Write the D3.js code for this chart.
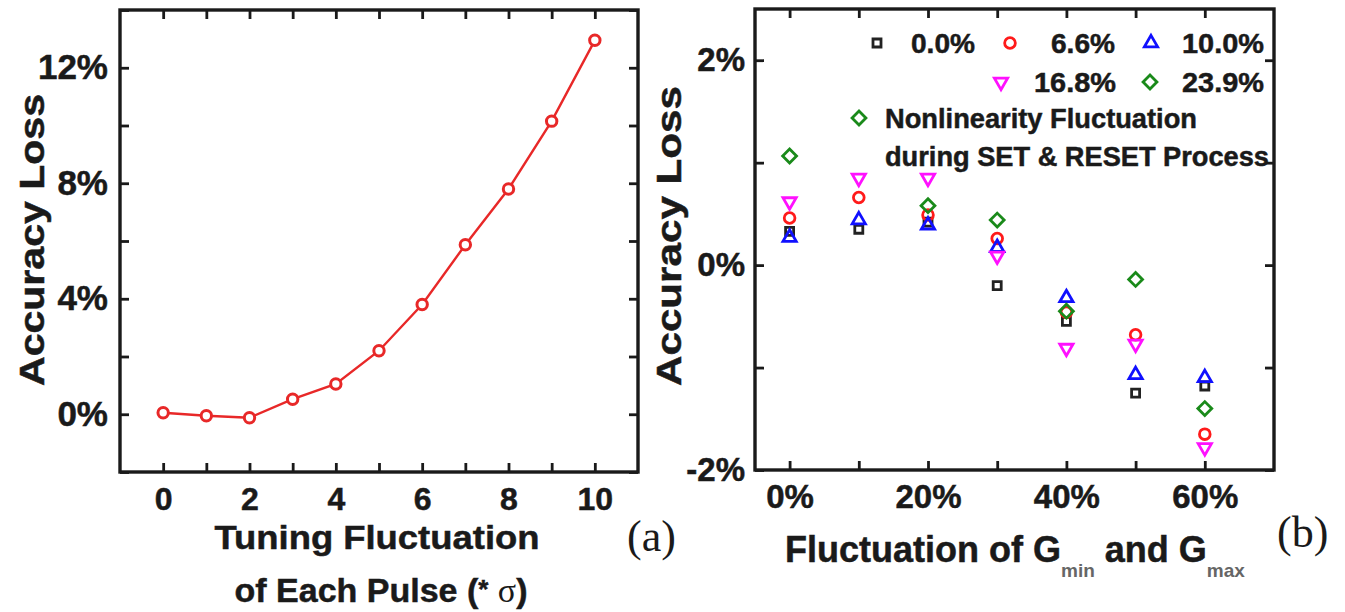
<!DOCTYPE html>
<html lang="en">
<head>
<meta charset="UTF-8">
<title>Accuracy Loss vs Fluctuation</title>
<script src="https://cdnjs.cloudflare.com/ajax/libs/d3/7.8.5/d3.min.js"></script>
<style>
  body { margin: 0; background: #fff; }
  svg { display: block; }
  text { font-family: Arial, "Liberation Sans", sans-serif; font-weight: bold; fill: #1a1a1a; stroke: #1a1a1a; stroke-width: 0.5px; }
  text.serif { font-family: "Liberation Serif", "Times New Roman", serif; font-weight: normal; stroke: none; }
</style>
</head>
<body>
<svg id="chart" width="1345" height="612"></svg>
<script>
// panel (a): tuning fluctuation of each pulse
const pulseSigma = [0, 1, 2, 3, 4, 5, 6, 7, 8, 9, 10];
const lossA = [0.05, -0.05, -0.12, 0.52, 1.05, 2.2, 3.8, 5.87, 7.8, 10.15, 12.95];
const ticksAX = [0, 2, 4, 6, 8, 10];
const ticksAY = [0, 4, 8, 12];

// panel (b): fluctuation of Gmin and Gmax, one series per nonlinearity fluctuation
const gFluct = [0, 10, 20, 30, 40, 50, 60];
const nlLabels = ["0.0%", "6.6%", "10.0%", "16.8%", "23.9%"];
const loss00 = [0.33, 0.35, 0.42, -0.2, -0.55, -1.25, -1.18];
const loss66 = [0.46, 0.66, 0.49, 0.26, -0.46, -0.68, -1.65];
const loss100 = [0.27, 0.44, 0.39, 0.17, -0.32, -1.07, -1.1];
const loss168 = [0.62, 0.85, 0.85, 0.09, -0.81, -0.77, -1.78];
const loss239 = [1.065, null, 0.58, 0.44, -0.45, -0.14, -1.4];
const ticksBX = [0, 20, 40, 60];
const ticksBY = [-2, 0, 2];

const svg = d3.select("#chart");

// ---------- helpers ----------
function frameAxes(g, x, y, xAll, yAll, xLab, yLab, xFmt, yFmt, xPad, yPad) {
    const [x0, x1] = x.range();
    const [y0, y1] = y.range();
    const tk = 9;

    g.append("g").attr("class", "xaxis").attr("transform", `translate(0,${y0})`)
        .call(d3.axisBottom(x).tickValues(xAll).tickSize(-tk).tickPadding(xPad)
            .tickFormat(d => xLab.includes(d) ? xFmt(d) : ""));
    g.append("g").attr("transform", `translate(0,${y1})`)
        .call(d3.axisTop(x).tickValues(xAll).tickSize(-tk).tickFormat(""));
    g.append("g").attr("class", "yaxis").attr("transform", `translate(${x0},0)`)
        .call(d3.axisLeft(y).tickValues(yAll).tickSize(-tk).tickPadding(yPad)
            .tickFormat(d => yLab.includes(d) ? yFmt(d) : ""));
    g.append("g").attr("transform", `translate(${x1},0)`)
        .call(d3.axisRight(y).tickValues(yAll).tickSize(-tk).tickFormat(""));

    g.selectAll(".domain").remove();
    g.selectAll(".tick line").attr("stroke", "#1a1a1a").attr("stroke-width", 2.8);
    g.selectAll(".tick text").attr("font-family", null);

    g.append("rect")
        .attr("x", x0).attr("y", y1)
        .attr("width", x1 - x0).attr("height", y0 - y1)
        .attr("fill", "none").attr("stroke", "#1a1a1a").attr("stroke-width", 3.4);
}

function rotLabel(g, cx, cy, txt, len) {
    g.append("text")
        .attr("transform", `translate(${cx},${cy}) rotate(-90)`)
        .attr("text-anchor", "middle")
        .attr("dominant-baseline", "central")
        .attr("font-size", 35)
        .attr("textLength", len)
        .attr("lengthAdjust", "spacingAndGlyphs")
        .text(txt);
}

// ---------- panel (a) ----------
const gA = svg.append("g");
const xA = d3.scaleLinear().domain([-1, 11]).range([120, 638]);
const yA = d3.scaleLinear().domain([-2, 14]).range([472, 10]);

frameAxes(gA, xA, yA, d3.range(0, 11, 1), d3.range(-2, 15, 2), ticksAX, ticksAY,
    d => d, d => d + "%", 15, 12);
gA.selectAll(".yaxis .tick text").attr("font-size", 35);
gA.selectAll(".xaxis .tick text").attr("font-size", 32);

gA.append("path")
    .datum(pulseSigma.map((p, i) => [p, lossA[i]]))
    .attr("fill", "none").attr("stroke", "#e82828").attr("stroke-width", 2.4)
    .attr("d", d3.line().x(d => xA(d[0])).y(d => yA(d[1])));

gA.selectAll("circle.pt")
    .data(pulseSigma.map((p, i) => [p, lossA[i]]))
    .join("circle").attr("class", "pt")
    .attr("cx", d => xA(d[0])).attr("cy", d => yA(d[1]))
    .attr("r", 5.2).attr("fill", "#fff").attr("stroke", "#e82828").attr("stroke-width", 3);

rotLabel(gA, 31, 240, "Accuracy Loss", 292);

gA.append("text").attr("x", 377).attr("y", 549).attr("text-anchor", "middle")
    .attr("font-size", 34).attr("textLength", 325).attr("lengthAdjust", "spacingAndGlyphs")
    .text("Tuning Fluctuation");
const t2 = gA.append("text").attr("x", 381).attr("y", 602).attr("text-anchor", "middle")
    .attr("font-size", 34);
t2.append("tspan").text("of Each Pulse (");
t2.append("tspan").attr("font-size", 26).attr("dy", -4).text("*");
t2.append("tspan").attr("dy", 4).text(" ");
t2.append("tspan").attr("class", "serif").style("font-family", "'Liberation Serif', serif")
    .style("font-weight", "normal").style("stroke", "none").text("σ");
t2.append("tspan").text(")");

gA.append("text").attr("class", "serif").attr("x", 627).attr("y", 551)
    .attr("font-size", 44).text("(a)");

// ---------- panel (b) ----------
const gB = svg.append("g");
const xB = d3.scaleLinear().domain([-5, 70]).range([755, 1274]);
const yB = d3.scaleLinear().domain([-2, 2.5]).range([470, 9]);

frameAxes(gB, xB, yB, d3.range(0, 61, 10), d3.range(-2, 2.1, 1), ticksBX, ticksBY,
    d => d + "%", d => d + "%", 15, 10);
gB.selectAll(".tick text").attr("font-size", 33);

const series = [
    { label: nlLabels[0], vals: loss00, color: "#222222", path: d3.symbol(d3.symbolSquare, 64)(), rot: 0 },
    { label: nlLabels[1], vals: loss66, color: "#ff1a1a", path: d3.symbol(d3.symbolCircle, 90)(), rot: 0 },
    { label: nlLabels[2], vals: loss100, color: "#1010ff", path: d3.symbol(d3.symbolTriangle, 76)(), rot: 0 },
    { label: nlLabels[3], vals: loss168, color: "#ff10ff", path: d3.symbol(d3.symbolTriangle, 76)(), rot: 180 },
    { label: nlLabels[4], vals: loss239, color: "#1a8a1a", path: d3.symbol(d3.symbolSquare, 96)(), rot: 45 }
];

series.forEach(s => {
    gB.append("g").selectAll("path")
        .data(gFluct.map((f, i) => [f, s.vals[i]]).filter(d => d[1] !== null))
        .join("path")
        .attr("d", s.path)
        .attr("transform", d => `translate(${xB(d[0])},${yB(d[1])}) rotate(${s.rot})`)
        .attr("fill", "none").attr("stroke", s.color).attr("stroke-width", 2.8);
});

// legend
const legendPos = [[877, 911, 43], [1010, 1051, 43], [1151, 1182, 43], [1001, 1034, 82], [1150, 1182, 82]];
const lg = gB.append("g");
series.forEach((s, i) => {
    const [mx, tx, ly] = legendPos[i];
    lg.append("path").attr("d", s.path)
        .attr("transform", `translate(${mx},${ly}) rotate(${s.rot})`)
        .attr("fill", "none").attr("stroke", s.color).attr("stroke-width", 2.8);
    lg.append("text").attr("x", tx).attr("y", ly).attr("dominant-baseline", "central")
        .attr("font-size", 28).attr("textLength", i === 2 || i >= 3 ? 82 : 64)
        .attr("lengthAdjust", "spacingAndGlyphs").text(s.label);
});
lg.append("path").attr("d", series[4].path)
    .attr("transform", "translate(859,118) rotate(45)")
    .attr("fill", "none").attr("stroke", series[4].color).attr("stroke-width", 2.8);
lg.append("text").attr("x", 885).attr("y", 118).attr("dominant-baseline", "central")
    .attr("font-size", 28).attr("textLength", 312).attr("lengthAdjust", "spacingAndGlyphs")
    .text("Nonlinearity Fluctuation");
lg.append("text").attr("x", 885).attr("y", 156).attr("dominant-baseline", "central")
    .attr("font-size", 28).attr("textLength", 384).attr("lengthAdjust", "spacingAndGlyphs")
    .text("during SET & RESET Process");

rotLabel(gB, 668, 236, "Accuracy Loss", 300);

const tb = gB.append("text").attr("x", 1015).attr("y", 562).attr("text-anchor", "middle")
    .attr("font-size", 36);
tb.append("tspan").text("Fluctuation of G");
tb.append("tspan").attr("font-size", 19).attr("dy", 15).style("fill", "#666").style("stroke", "none").text("min");
tb.append("tspan").attr("dy", -15).text(" and G");
tb.append("tspan").attr("font-size", 19).attr("dy", 15).style("fill", "#666").style("stroke", "none").text("max");

gB.append("text").attr("class", "serif").attr("x", 1277).attr("y", 547)
    .attr("font-size", 44).text("(b)");
</script>
</body>
</html>
